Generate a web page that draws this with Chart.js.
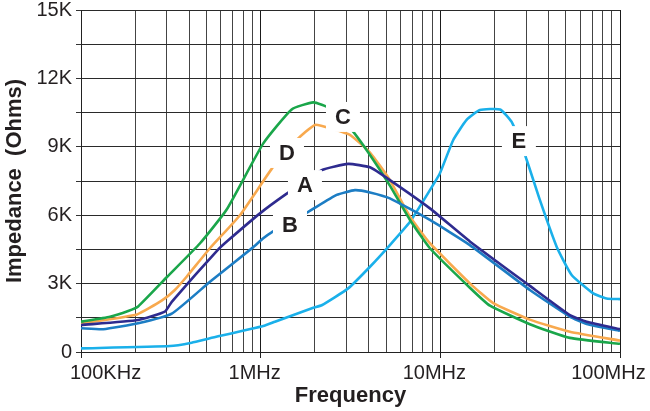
<!DOCTYPE html>
<html>
<head>
<meta charset="utf-8">
<script src="https://cdn.jsdelivr.net/npm/chart.js@4/dist/chart.umd.min.js"></script>
<style>
  html, body { margin: 0; padding: 0; background: #fff; }
  #wrap { width: 650px; height: 411px; }
</style>
</head>
<body>
<div id="wrap"><canvas id="impChart" width="650" height="411"></canvas></div>
<script>
// Frequency in MHz, impedance in K ohms
const freqA = [0.1, 0.208, 0.293, 0.32, 0.581, 0.66, 0.991, 1.365, 2.186, 3.07, 4.06, 5.24, 8.75, 14.6, 31.5, 52.6, 65.2, 100];
const valA  = [1.18, 1.40, 1.77, 2.2, 4.5, 4.9, 6.08, 6.89, 7.98, 8.25, 8.1, 7.54, 6.3, 4.85, 2.9, 1.62, 1.33, 1.0];

const freqB = [0.1, 0.133, 0.208, 0.32, 0.522, 0.91, 1.034, 1.151, 1.841, 2.648, 3.348, 4.06, 5.24, 8.75, 14.6, 31.5, 52.6, 65.2, 100];
const valB  = [1.04, 1.0, 1.26, 1.68, 3.08, 4.6, 4.99, 5.25, 6.15, 6.89, 7.1, 7.0, 6.74, 5.79, 4.69, 2.72, 1.55, 1.23, 0.93];

const freqC = [0.1, 0.145, 0.183, 0.208, 0.30, 0.46, 0.647, 1.034, 1.488, 1.963, 2.43, 3.21, 4.06, 5.24, 6.78, 8.75, 14.6, 18.9, 31.5, 52.6, 100];
const valC  = [1.33, 1.55, 1.8, 2.0, 3.28, 4.77, 6.25, 9.15, 10.64, 10.95, 10.69, 9.74, 8.64, 7.3, 5.79, 4.55, 2.82, 2.03, 1.22, 0.62, 0.36];

const freqD = [0.1, 0.205, 0.281, 0.333, 0.387, 0.522, 0.767, 1.175, 1.586, 2.006, 2.535, 3.14, 4.06, 5.24, 6.78, 8.75, 14.6, 19.7, 31.5, 52.6, 100];
const valD  = [1.25, 1.65, 2.25, 2.72, 3.3, 4.55, 6.0, 8.13, 9.3, 9.96, 9.77, 9.52, 8.75, 7.54, 5.93, 4.77, 3.01, 2.14, 1.42, 0.89, 0.5];

const freqE = [0.1, 0.313, 0.413, 0.522, 1.034, 1.201, 1.963, 2.186, 3.07, 4.06, 5.24, 6.78, 8.75, 9.95, 11.8, 14.0, 16.6, 21.5, 24.9, 29.6, 35.8, 44.4, 53.8, 71.0, 84.2, 100];
const valE  = [0.16, 0.26, 0.41, 0.6, 1.14, 1.33, 1.94, 2.05, 2.79, 3.74, 4.69, 5.71, 7.1, 7.84, 9.3, 10.18, 10.61, 10.64, 10.1, 8.64, 6.67, 4.62, 3.38, 2.57, 2.35, 2.32];

const seriesNames = ['A', 'B', 'C', 'D', 'E'];

// curve labels: where each letter sits (MHz, K ohms)
const labelFreq = [1.764, 1.456, 2.871, 1.401, 27.37];
const labelVal  = [7.32, 5.57, 10.31, 8.73, 9.25];

// axis ticks
const xTickValues = [0.1, 1, 10, 100];
const xTickLabels = ['100KHz', '1MHz', '10MHz', '100MHz'];
const yTickLabels = ['0', '3K', '6K', '9K', '12K', '15K'];

function toPoints(fs, vs) {
    return fs.map((f, i) => ({ x: f, y: vs[i] }));
}

function isDecade(v) {
    return xTickValues.some(t => Math.abs(t - v) < 1e-9);
}

// Draws the letters with a white box behind them
const curveLabels = {
    id: 'curveLabels',
    afterDatasetsDraw(chart) {
        const ctx = chart.ctx;
        const xs = chart.scales.x, ys = chart.scales.y;
        ctx.save();
        ctx.font = 'bold 22px Arial, "Liberation Sans", sans-serif';
        ctx.textAlign = 'center';
        ctx.textBaseline = 'middle';
        seriesNames.forEach((name, i) => {
            const px = xs.getPixelForValue(labelFreq[i]);
            const py = ys.getPixelForValue(labelVal[i]);
            ctx.fillStyle = '#fff';
            ctx.fillRect(px - 17, py - 15, 34, 30);
            ctx.fillStyle = '#231f20';
            ctx.fillText(name, px, py + 1);
        });
        ctx.restore();
    }
};

function createChart() {
    const ctx = document.getElementById('impChart').getContext('2d');
    const colors = ['#2e2b8f', '#1c7dc4', '#1aa64a', '#f8a94e', '#1ab0ea'];
    const allF = [freqA, freqB, freqC, freqD, freqE];
    const allV = [valA, valB, valC, valD, valE];

    new Chart(ctx, {
        type: 'line',
        data: {
            datasets: seriesNames.map((n, i) => ({
                label: n,
                data: toPoints(allF[i], allV[i]),
                borderColor: colors[i],
                borderWidth: 2.6,
                pointRadius: 0,
                fill: false,
                tension: 0.15
            }))
        },
        options: {
            responsive: false,
            animation: false,
            layout: { padding: { top: 10, right: 30, left: 0, bottom: 0 } },
            plugins: {
                legend: { display: false },
                tooltip: { enabled: false }
            },
            scales: {
                x: {
                    type: 'logarithmic',
                    min: 0.1,
                    max: 100,
                    afterBuildTicks: (scale) => {
                        const t = [];
                        [0.1, 1, 10].forEach(d => {
                            for (let k = 1; k <= 9; k++) t.push({ value: d * k });
                        });
                        t.push({ value: 100 });
                        scale.ticks = t;
                    },
                    afterFit: (scale) => {
                        scale.height = 59;
                        scale.paddingLeft = 0;
                        scale.paddingRight = 0;
                    },
                    grid: {
                        color: (c) => (c.tick && isDecade(c.tick.value)) ? '#1a1a1a' : '#444',
                        tickColor: (c) => (c.tick && isDecade(c.tick.value)) ? '#222' : 'rgba(0,0,0,0)',
                        tickLength: 6,
                        lineWidth: 1
                    },
                    border: { color: '#222', width: 1 },
                    ticks: {
                        autoSkip: false,
                        maxRotation: 0,
                        padding: 3,
                        labelOffset: -6,
                        color: '#231f20',
                        font: { family: 'Arial, "Liberation Sans", sans-serif', size: 20 },
                        callback: (v) => {
                            const i = xTickValues.findIndex(t => Math.abs(t - v) < 1e-9);
                            if (i < 0) return '';
                            if (i === 0) return '           ' + xTickLabels[i];
                            if (i === xTickLabels.length - 1) return xTickLabels[i] + '  ';
                            return xTickLabels[i];
                        }
                    },
                    title: {
                        display: true,
                        text: 'Frequency',
                        color: '#231f20',
                        font: { family: 'Arial, "Liberation Sans", sans-serif', size: 22, weight: 'bold' },
                        padding: { top: 0, bottom: 2 }
                    }
                },
                y: {
                    min: 0,
                    max: 15,
                    afterFit: (scale) => {
                        scale.width = 81;
                        scale.paddingTop = 0;
                        scale.paddingBottom = 0;
                    },
                    ticks: {
                        stepSize: 1.5,
                        padding: 4,
                        color: '#231f20',
                        font: { family: 'Arial, "Liberation Sans", sans-serif', size: 20 },
                        callback: (v) => {
                            const r = Math.round(v * 10) / 10;
                            return (Math.abs(r % 3) < 1e-6) ? yTickLabels[Math.round(r / 3)] : '';
                        }
                    },
                    grid: {
                        color: '#2a2a2a',
                        tickColor: '#333',
                        tickLength: 5,
                        lineWidth: 1
                    },
                    border: { color: '#222', width: 1 },
                    title: {
                        display: true,
                        text: 'Impedance  (Ohms)',
                        color: '#231f20',
                        font: { family: 'Arial, "Liberation Sans", sans-serif', size: 22, weight: 'bold' },
                        padding: { top: 2, bottom: 4 }
                    }
                }
            }
        },
        plugins: [curveLabels]
    });
}

window.onload = function () {
    createChart();
};
</script>
</body>
</html>
